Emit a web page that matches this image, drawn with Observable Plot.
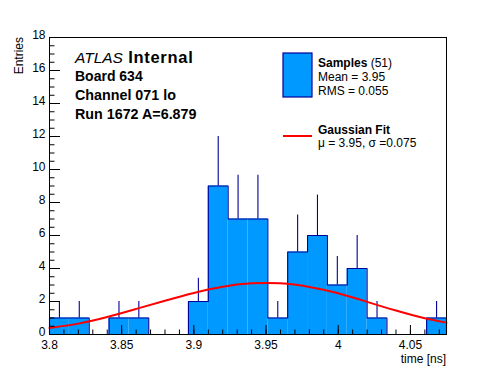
<!DOCTYPE html>
<html>
<head>
<meta charset="utf-8">
<script src="https://cdn.jsdelivr.net/npm/d3@7"></script>
<script src="https://cdn.jsdelivr.net/npm/@observablehq/plot@0.6"></script>
<style>
  html, body { margin: 0; padding: 0; background: #fff; }
  svg { display: block; }
</style>
</head>
<body>
<div id="chart"></div>
<script>
// ---- data ----
const binStart = [3.8, 3.81375, 3.8275, 3.84125, 3.855, 3.86875, 3.8825, 3.89625, 3.91, 3.92375,
                  3.9375, 3.95125, 3.965, 3.97875, 3.9925, 4.00625, 4.02, 4.03375, 4.0475, 4.06125];
const binEnd   = [3.81375, 3.8275, 3.84125, 3.855, 3.86875, 3.8825, 3.89625, 3.91, 3.92375, 3.9375,
                  3.95125, 3.965, 3.97875, 3.9925, 4.00625, 4.02, 4.03375, 4.0475, 4.06125, 4.075];
const counts   = [1, 1, 0, 1, 1, 0, 0, 2, 9, 7, 7, 1, 5, 6, 3, 4, 1, 0, 0, 1];
const errUp    = [1, 1, 0, 1, 1, 0, 0, 1.41, 3, 2.65, 2.65, 1, 2.24, 2.45, 1.73, 2, 1, 0, 0, 1];

const fitT = [3.80, 3.82, 3.84, 3.86, 3.88, 3.90, 3.92, 3.94, 3.96, 3.98, 4.00, 4.02, 4.04, 4.06, 4.075];
const fitV = [0.40, 0.66, 1.06, 1.55, 2.05, 2.52, 2.90, 3.10, 3.10, 2.88, 2.50, 1.98, 1.45, 0.98, 0.72];

const xTicks = [3.8, 3.85, 3.9, 3.95, 4.0, 4.05];
const xTickLabels = ["3.8", "3.85", "3.9", "3.95", "4", "4.05"];
const yTicks = [0, 2, 4, 6, 8, 10, 12, 14, 16, 18];
const yTickLabels = ["0", "2", "4", "6", "8", "10", "12", "14", "16", "18"];

// ---- derived tables ----
const bins = counts.map((c, i) => ({x1: binStart[i], x2: binEnd[i], xc: (binStart[i] + binEnd[i]) / 2, y: c, e: errUp[i]}));
const outline = [{x: binStart[0], y: 0}]
  .concat(bins.map(b => ({x: b.x1, y: b.y})))
  .concat([{x: binEnd[binEnd.length - 1], y: 0}]);
const fit = fitT.map((t, i) => ({t, v: fitV[i]}));
const xMinor = d3.range(3.8, 4.0751, 0.01);
const yMinor = d3.range(0, 18.01, 0.5);

const W = 496, H = 372;
const mL = 49, mR = 50, mT = 37, mB = 38;
const fw = W - mL - mR, fh = H - mT - mB;
const FONT = "'Liberation Sans', Arial, Helvetica, sans-serif";
const FILL = "#0099ff", LINE = "#000099";

const chart = Plot.plot({
  width: W, height: H,
  marginLeft: mL, marginRight: mR, marginTop: mT, marginBottom: mB,
  style: {fontFamily: FONT, fontSize: "12px", color: "#000", background: "#fff"},
  x: {domain: [3.8, 4.075]},
  y: {domain: [0, 18]},
  marks: [
    Plot.rectY(bins, {x1: "x1", x2: "x2", y: "y", fill: FILL}),
    Plot.line(outline, {x: "x", y: "y", curve: "step-after", stroke: LINE, strokeWidth: 1.1}),
    Plot.ruleX(bins.filter(b => b.y > 0), {x: "xc", y1: "y", y2: b => b.y + b.e, stroke: LINE, strokeWidth: 1.1}),
    Plot.line(fit, {x: "t", y: "v", curve: "natural", stroke: "#ff0000", strokeWidth: 2}),
    Plot.frame({stroke: "#000", strokeWidth: 1}),
    Plot.tickX(xMinor, {x: d => d, insetTop: fh - 4.5, stroke: "#000"}),
    Plot.tickX(xTicks, {x: d => d, insetTop: fh - 9, stroke: "#000"}),
    Plot.tickY(yMinor, {y: d => d, insetRight: fw - 5.5, stroke: "#000"}),
    Plot.tickY(yTicks, {y: d => d, insetRight: fw - 11, stroke: "#000"}),
    Plot.axisX(xTicks, {tickSize: 0, tickPadding: 6, fontSize: 12, tickFormat: (d, i) => xTickLabels[i], label: null}),
    Plot.axisY(yTicks, {tickSize: 0, tickPadding: 4, fontSize: 12, dy: -2, tickFormat: (d, i) => yTickLabels[i], label: null})
  ]
});

const svg = d3.select(chart);
function txt(x, y, parts, size, anchor = "start", rotate = null) {
  const t = svg.append("text")
    .attr("x", x).attr("y", y)
    .attr("font-family", FONT).attr("font-size", size)
    .attr("text-anchor", anchor).attr("fill", "#000");
  if (rotate !== null) t.attr("transform", `rotate(${rotate},${x},${y})`);
  parts.forEach(p => {
    const s = t.append("tspan").text(p.t);
    if (p.b) s.attr("font-weight", "bold");
    if (p.i) s.attr("font-style", "italic");
    if (p.s) s.attr("font-size", p.s);
    if (p.ls) s.attr("letter-spacing", p.ls);
  });
  return t;
}
// axis titles
txt(23, 37, [{t: "Entries"}], 12, "end", -90);
txt(446, 363, [{t: "time [ns]"}], 12, "end");
// ATLAS label block
txt(75, 63, [{t: "ATLAS", i: true}, {t: " Internal", b: true, s: 16.5, ls: 0.7}], 15.5);
txt(75, 81, [{t: "Board 634", b: true}], 14);
txt(75, 100, [{t: "Channel 071 lo", b: true}], 14.3);
txt(75, 119, [{t: "Run 1672 A=6.879", b: true}], 14.3);
// legend
svg.append("rect").attr("x", 283).attr("y", 53).attr("width", 29).attr("height", 44)
  .attr("fill", FILL).attr("stroke", LINE).attr("stroke-width", 1.2);
txt(318, 67, [{t: "Samples", b: true}, {t: " (51)"}], 12);
txt(318, 81, [{t: "Mean = 3.95"}], 12);
txt(318, 95, [{t: "RMS = 0.055"}], 12);
svg.append("line").attr("x1", 283).attr("x2", 312).attr("y1", 136).attr("y2", 136)
  .attr("stroke", "#ff0000").attr("stroke-width", 2);
txt(318, 134, [{t: "Gaussian Fit", b: true}], 12);
txt(318, 147, [{t: "\u03bc = 3.95, \u03c3 =0.075"}], 12);

document.getElementById("chart").appendChild(chart);
</script>
</body>
</html>
